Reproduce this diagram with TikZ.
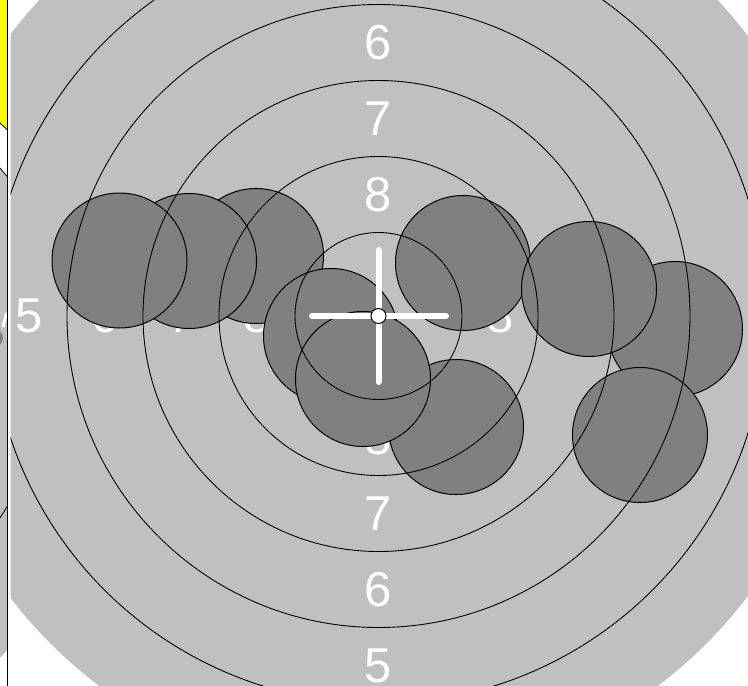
\documentclass[tikz,border=0pt]{standalone}
\usepackage{fontspec}
\setmainfont{Liberation Sans}
\definecolor{diskgray}{RGB}{192,192,192}
\definecolor{holegray}{RGB}{128,128,128}
\definecolor{tagyellow}{RGB}{255,255,0}
\begin{document}
\begin{tikzpicture}[x=1pt,y=-1pt,
  hole/.style={fill=holegray, draw=black, line width=1pt},
  ring/.style={draw=black, line width=0.9pt},
  num/.style={text=white, font=\fontsize{49}{49}\selectfont, inner sep=0pt},
  cross/.style={white, line width=6pt, line cap=round}]
\useasboundingbox (0,0) rectangle (748,686);
\fill[white] (0,0) rectangle (748,686);
% left strip (edge of neighbouring panel)
\begin{scope}
  \clip (0,0) rectangle (7.5,686);
  \fill[diskgray] (0,0) rectangle (7.5,686);
  \fill[tagyellow] (0,0) -- (7.5,0) -- (7.5,130) -- (0,123) -- cycle;
  \fill[white] (0,123) -- (7.5,130) -- (7.5,177) -- (0,168) -- cycle;
  \draw[line width=0.8pt] (0,123) -- (7.5,130);
  \draw[line width=0.8pt] (0,168) -- (7.5,177);
  \fill[holegray] (-6,338) circle (9);
  \draw[white, line width=3pt] (3,327) -- (6.5,313);
  \draw[line width=0.8pt] (0,518) -- (7.5,506);
  \fill[white] (0,658) -- (7.5,650) -- (7.5,686) -- (0,686) -- cycle;
\end{scope}
% main target
\coordinate (c) at (378.5,316);
\begin{scope}
  \clip (10.7,0) rectangle (748,686);
  \fill[diskgray] (c) circle (463.5);
  \foreach \n/\r in {8/121.5,7/197.5,6/273.5,5/349.5} {
    \node[num] (top\n) at (378.5,316-\r) {\n};
    \node[num] (bot\n) at (378.5,316+\r) {\n};
    \node[num] (lft\n) at (378.5-\r,316) {\n};
    \node[num] (rgt\n) at (378.5+\r,316) {\n};
  }
  \foreach \x/\y [count=\i] in {256/256, 189/261, 119.5/260.5, 331/336, 456/427,
      363/379, 463/263, 675/329, 589/289, 640/435} {
    \path[hole] (\x,\y) coordinate (h\i) circle (67.5);
  }
  \foreach \r in {83.5,159.5,235.5,311.5,387.5} {
    \draw[ring] (c) circle (\r);
  }
  \coordinate (vt) at (378.5,250);
  \coordinate (vb) at (378.5,382);
  \coordinate (hl) at (312,316);
  \coordinate (hr) at (446,316);
  \draw[cross] (vt) -- (vb);
  \draw[cross] (hl) -- (hr);
  \node[circle, fill=white, draw=black, line width=1pt, minimum size=15pt, inner sep=0pt] (ctr) at (c) {};
\end{scope}
\draw[line width=1pt] (7.8,0) -- (7.8,686);
\end{tikzpicture}
\end{document}
